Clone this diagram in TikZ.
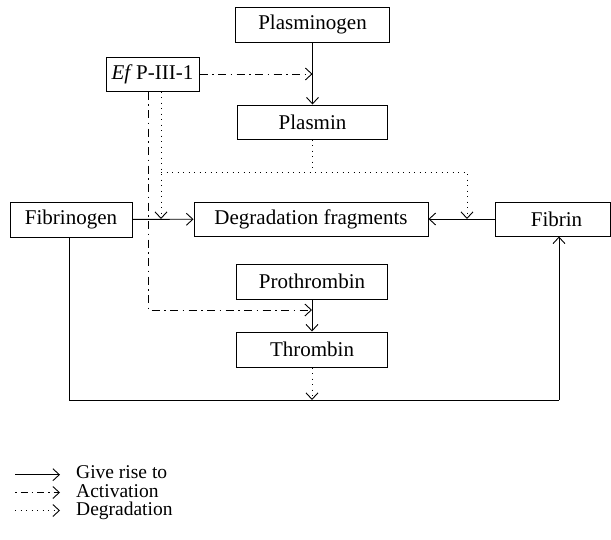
\documentclass[tikz,border=0pt]{standalone}
\usepackage{fontspec}
\setmainfont{Liberation Serif}
\usetikzlibrary{arrows.meta}
\begin{document}
\begin{tikzpicture}[x=1pt,y=-1pt,
  font=\fontsize{21}{25}\selectfont,
  box/.style={draw, line width=1pt, inner sep=0pt, minimum height=35pt},
  tip/.style={-{Straight Barb[length=6.5pt,width=12pt,line width=0.9pt]}},
  conn/.style={line width=0.9pt},
  dashdot/.style={conn, dash pattern=on 8pt off 4.5pt on 1.5pt off 4.5pt},
  dots/.style={conn, dash pattern=on 1.2pt off 4.3pt},
  legtext/.style={anchor=base west, inner sep=0pt, font=\fontsize{19.5}{22}\selectfont}]
\useasboundingbox (0,0) rectangle (611,539);
% boxes
\node[box, minimum width=154pt] (plg) at (312.5,24.5) {Plasminogen};
\node[box, minimum width=150pt, minimum height=34pt] (pl) at (312.5,122) {Plasmin};
\node[box, minimum width=93pt, minimum height=34pt] (ef) at (152.5,74) {\textit{Ef}\,P-III-1};
\node[box, minimum width=122pt] (fbg) at (71,219.5) {Fibrinogen};
\node[box, minimum width=234pt, minimum height=34pt] (deg) at (311,219) {Degradation fragments};
\node[box, minimum width=115pt, minimum height=34pt] (fib) at (552.5,219) {\hspace*{8pt}Fibrin};
\node[box, minimum width=151pt] (pro) at (312,281.5) {Prothrombin};
\node[box, minimum width=151pt] (thr) at (312,349.5) {Thrombin};
% helper coordinates
\coordinate (dL) at (161,172);
\coordinate (dR) at (467,172);
\coordinate (dd) at (148,310);
\coordinate (bl) at (69,400);
\coordinate (br) at (559,400);
% give rise to
\draw[conn,tip] (plg.south) -- (pl.north);
\draw[conn,tip] (fbg) -- (deg);
\draw[conn,tip] (fib) -- (deg);
\draw[conn,tip] (pro) -- (thr);
\draw[line width=1pt] (fbg.south -| bl) -- (bl) -- (br);
\draw[conn,tip] (br) -- (br |- fib.south);
% activation
\draw[dashdot,tip] (ef.east) -- (ef.east -| plg.south);
\draw[dashdot,tip] (ef.south -| dd) -- (dd) -- (dd -| pro.south);
% degradation
\draw[dots,tip] (ef.south -| dL) -- (dL |- deg.west);
\draw[dots] (pl.south) -- (pl.south |- dL);
\draw[dots,tip] (dL) -- (dR) -- (dR |- fib.west);
\draw[dots,tip] (thr.south) -- (thr.south |- bl);
% legend
\coordinate (l1a) at (15,474.7); \coordinate (l1b) at (60,474.7);
\coordinate (l2a) at (15,492.5); \coordinate (l2b) at (60,492.5);
\coordinate (l3a) at (15,510.5); \coordinate (l3b) at (60,510.5);
\draw[conn,tip] (l1a) -- (l1b);
\draw[conn,tip,dash pattern=on 1.5pt off 4pt on 7pt off 4pt] (l2a) -- (l2b);
\draw[dots,tip] (l3a) -- (l3b);
\node[legtext] (t1) at (76,478.7) {Give rise to};
\node[legtext] (t2) at (76,497) {Activation};
\node[legtext] (t3) at (76,515.3) {Degradation};
\end{tikzpicture}
\end{document}
